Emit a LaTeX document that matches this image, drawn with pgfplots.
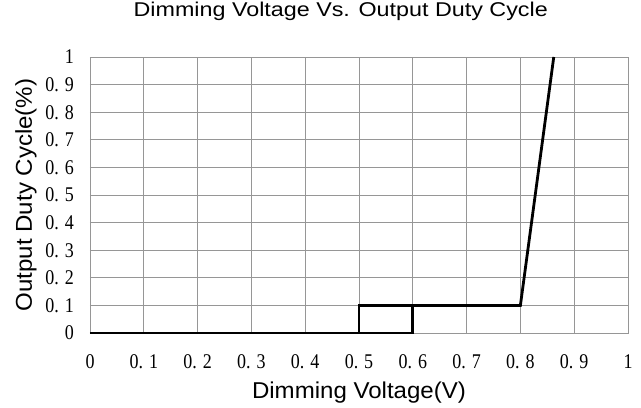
\documentclass[border=0pt]{standalone}
\usepackage{pgfplots}
\pgfplotsset{compat=1.18}
\usepackage{fontspec}
\setmainfont{Liberation Sans}
\newfontfamily\titlefont[FakeStretch=1.17]{Liberation Sans}
\newfontfamily\labelfont[FakeStretch=1.05]{Liberation Sans}
\newfontfamily\tickfont[FakeStretch=0.86]{Liberation Serif}
\definecolor{gridgray}{RGB}{150,150,150}
\newcommand{\tl}[1]{0.\kern6bp #1}
\begin{document}
\begin{tikzpicture}
\useasboundingbox (-90bp,-75bp) rectangle (551bp,333bp);
\begin{axis}[
  at={(0,0)}, anchor=south west,
  scale only axis, width=538bp, height=276bp,
  xmin=0, xmax=1, ymin=0, ymax=1,
  xtick={0,0.1,0.2,0.3,0.4,0.5,0.6,0.7,0.8,0.9,1},
  ytick={0,0.1,0.2,0.3,0.4,0.5,0.6,0.7,0.8,0.9,1},
  xticklabels={0,\tl1,\tl2,\tl3,\tl4,\tl5,\tl6,\tl7,\tl8,\tl9,1},
  yticklabels={0,\tl1,\tl2,\tl3,\tl4,\tl5,\tl6,\tl7,\tl8,\tl9,1},
  grid=major,
  major grid style={gridgray, line width=0.9bp},
  axis line style={gridgray, line width=0.9bp},
  major tick length=0pt,
  xticklabel style={font=\tickfont\fontsize{21}{21}\selectfont, anchor=base, inner sep=0pt, yshift=-35bp},
  yticklabel style={font=\tickfont\fontsize{21}{21}\selectfont, anchor=east, inner sep=0pt, xshift=-16bp},
  xlabel={Dimming Voltage(V)},
  ylabel={Output Duty Cycle(\%)},
  xlabel style={font=\labelfont\fontsize{23}{23}\selectfont, at={(axis description cs:0.5,0)}, anchor=base, yshift=-65bp},
  ylabel style={font=\labelfont\fontsize{23}{23}\selectfont, at={(axis description cs:-0.119,0.5)}, anchor=center},
  title={Dimming Voltage Vs. Output Duty Cycle},
  title style={font=\titlefont\fontsize{20}{20}\selectfont, at={(axis description cs:0.466,1)}, anchor=base, yshift=35bp},
]
\addplot[black, line width=2.8bp, line join=miter] coordinates {(0,0) (0.6,0) (0.6,0.1) (0.5,0.1) (0.5,0)};
\addplot[black, line width=2.8bp, line join=miter] coordinates {(0.6,0.1) (0.8,0.1) (0.862,1)};
\end{axis}
\end{tikzpicture}
\end{document}
